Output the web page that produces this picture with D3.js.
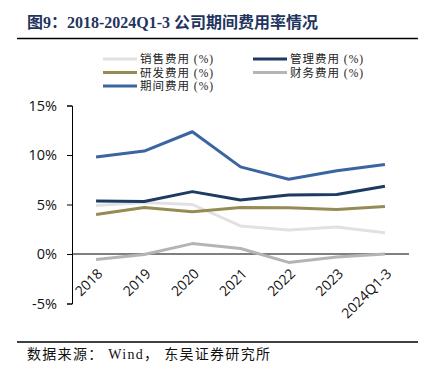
<!DOCTYPE html>
<html>
<head>
<meta charset="utf-8">
<script src="https://cdn.jsdelivr.net/npm/d3@7"></script>
<style>
  body { margin: 0; background: #fff; }
  svg { display: block; }
</style>
</head>
<body>
<svg id="chart"></svg>
<script>
// Period expense ratios, 2018 - 2024Q1-3 (%)
const categories = ["2018", "2019", "2020", "2021", "2022", "2023", "2024Q1-3"];
const sales    = [4.9, 5.2, 5.0, 2.83, 2.42, 2.73, 2.15];   // 销售费用
const admin    = [5.35, 5.3, 6.3, 5.45, 5.95, 6.0, 6.85];   // 管理费用
const rnd      = [4.0, 4.7, 4.27, 4.7, 4.68, 4.5, 4.8];     // 研发费用
const finance  = [-0.55, -0.05, 1.05, 0.55, -0.85, -0.3, 0.0]; // 财务费用
const period   = [9.8, 10.4, 12.35, 8.8, 7.55, 8.4, 9.05];  // 期间费用
const yTicks = [-5, 0, 5, 10, 15];

const series = [
  { name: "销售费用 (%)", values: sales,   color: "#e1e1e1" },
  { name: "管理费用 (%)", values: admin,   color: "#1d3a62" },
  { name: "研发费用 (%)", values: rnd,     color: "#958b55" },
  { name: "财务费用 (%)", values: finance, color: "#b4b4b4" },
  { name: "期间费用 (%)", values: period,  color: "#3a65a0" }
];

const W = 433, H = 386;
const svg = d3.select("#chart").attr("width", W).attr("height", H);
const serif = "'Liberation Serif', 'Noto Sans CJK SC', serif";
const sans = "'Open Sans', 'Noto Sans', sans-serif";

// title + rules
svg.append("text")
  .attr("x", 27).attr("y", 28)
  .attr("font-family", serif)
  .attr("font-weight", "bold").attr("font-size", 16)
  .attr("fill", "#1f3560")
  .text("图9：2018-2024Q1-3 公司期间费用率情况");
svg.append("line").attr("x1", 17).attr("x2", 418).attr("y1", 38.5).attr("y2", 38.5)
  .attr("stroke", "#000").attr("stroke-width", 1.5);
svg.append("line").attr("x1", 17).attr("x2", 418).attr("y1", 342).attr("y2", 342)
  .attr("stroke", "#000").attr("stroke-width", 1.5);
svg.append("text")
  .attr("x", 27).attr("y", 359)
  .attr("font-family", serif)
  .attr("font-size", 14).attr("letter-spacing", 1.3).attr("fill", "#111")
  .text("数据来源： Wind， 东吴证券研究所");

// scales
const x = d3.scalePoint().domain(categories).range([72, 409]).padding(0.5);
const y = d3.scaleLinear().domain([-5, 15]).range([303.5, 105.5]);

// y axis
const yAxis = svg.append("g").attr("transform", "translate(72,0)")
  .call(d3.axisLeft(y).tickValues(yTicks).tickSize(5).tickPadding(10).tickFormat(d => d + "%"));
yAxis.select(".domain").attr("stroke", "#000");
yAxis.selectAll(".tick line").attr("stroke", "#000");
yAxis.selectAll("text").attr("font-family", sans)
  .attr("font-size", 14.5).attr("fill", "#111");

// zero line
svg.append("line")
  .attr("x1", 72).attr("x2", 409).attr("y1", y(0)).attr("y2", y(0))
  .attr("stroke", "#000").attr("stroke-width", 1);

// category labels, rotated
svg.append("g").selectAll("text").data(categories).join("text")
  .attr("transform", d => `translate(${x(d) + 4},${y(0) + 17}) rotate(-45)`)
  .attr("text-anchor", "end")
  .attr("dy", "0.35em")
  .attr("font-family", sans)
  .attr("font-size", 14).attr("fill", "#111")
  .text(d => d);

// lines
const line = d3.line().x((d, i) => x(categories[i])).y(d => y(d));
svg.append("g").selectAll("path").data(series).join("path")
  .attr("d", d => line(d.values))
  .attr("fill", "none")
  .attr("stroke", d => d.color)
  .attr("stroke-width", 3)
  .attr("stroke-linejoin", "round");

// legend
const legendPos = [[103, 59], [253, 59], [103, 72.5], [253, 72.5], [103, 86]];
const lg = svg.append("g").selectAll("g").data(series).join("g")
  .attr("transform", (d, i) => `translate(${legendPos[i][0]},${legendPos[i][1]})`);
lg.append("line").attr("x1", 0).attr("x2", 34)
  .attr("stroke", d => d.color).attr("stroke-width", 3);
lg.append("text").attr("x", 37).attr("dy", "0.35em")
  .attr("font-family", serif).attr("font-size", 11.5).attr("letter-spacing", 1)
  .attr("fill", "#222")
  .text(d => d.name);
</script>
</body>
</html>
